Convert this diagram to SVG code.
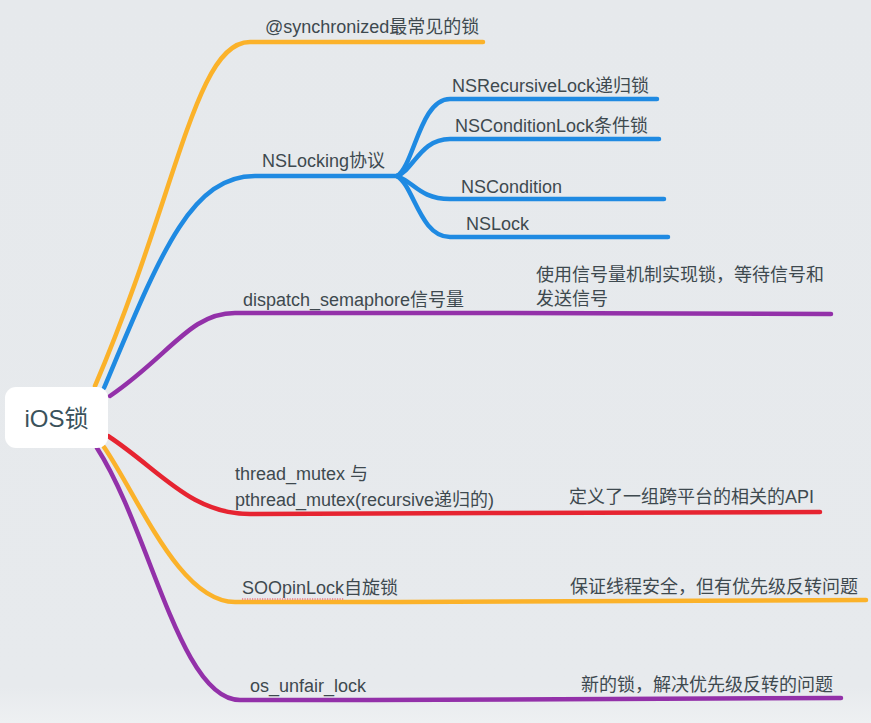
<svg xmlns="http://www.w3.org/2000/svg" width="871" height="723" viewBox="0 0 871 723">
<defs>
<linearGradient id="bg" x1="0" y1="0" x2="0" y2="1">
<stop offset="0" stop-color="#e6e9ec"/>
<stop offset="0.95" stop-color="#e7eaed"/>
<stop offset="1" stop-color="#eef0f2"/>
</linearGradient>
<style>
.ln{fill:none;stroke-width:4.5;stroke-linecap:round;stroke-linejoin:round}
.or{stroke:#fbb22a}
.bl{stroke:#1f8ae2}
.pu{stroke:#9331a9}
.rd{stroke:#e62431}
.t{font-family:"Liberation Sans","Noto Sans CJK SC",sans-serif;font-size:18px;fill:#3e494f}
.root{font-family:"Liberation Sans","Noto Sans CJK SC",sans-serif;font-size:24px;fill:#3a525b}
</style>
</defs>
<rect width="871" height="723" fill="url(#bg)"/>
<g id="connectors">
<path class="ln or" d="M95,386 C178,192 195,42 250,42 L483,42"/>
<path class="ln bl" d="M104,388 C160,255 190,176 255,176 L397,176"/>
<path class="ln bl" d="M397,176 C414,166 420,99 450,99 L657,99"/>
<path class="ln bl" d="M397,176 C414,170 420,139 450,139 L659,139"/>
<path class="ln bl" d="M397,176 C414,182 420,199 450,199 L664,199"/>
<path class="ln bl" d="M397,176 C414,186 420,237 450,237 L668,237"/>
<path class="ln pu" d="M110,396 C170,355 190,313 235,313 L470,313 L831,314"/>
<path class="ln rd" d="M108,436 C160,470 190,514 250,514 L491,513 L820,512"/>
<path class="ln or" d="M104,447 C140,500 180,602 235,602 L400,602 L866,600"/>
<path class="ln pu" d="M97,448 C150,530 180,700 240,700 L370,700 L841,698"/>
</g>
<g id="root">
<rect x="5" y="387" width="103" height="61" rx="11" fill="#ffffff"/>
<text class="root" x="56.5" y="427" text-anchor="middle">iOS锁</text>
</g>
<g id="n-synchronized"><text class="t" x="265" y="33">@synchronized最常见的锁</text></g>
<g id="n-nslocking"><text class="t" x="262" y="167">NSLocking协议</text></g>
<g id="n-recursive"><text class="t" x="452" y="92">NSRecursiveLock递归锁</text></g>
<g id="n-conditionlock"><text class="t" x="455" y="132">NSConditionLock条件锁</text></g>
<g id="n-condition"><text class="t" x="461" y="193">NSCondition</text></g>
<g id="n-nslock"><text class="t" x="466" y="230">NSLock</text></g>
<g id="n-semaphore"><text class="t" x="243" y="306">dispatch_semaphore信号量</text></g>
<g id="n-semaphore-note"><text class="t" x="536" y="281">使用信号量机制实现锁，等待信号和</text><text class="t" x="536" y="305">发送信号</text></g>
<g id="n-mutex"><text class="t" x="235" y="480">thread_mutex 与</text><text class="t" x="235" y="506">pthread_mutex(recursive递归的)</text></g>
<g id="n-mutex-note"><text class="t" x="569" y="503">定义了一组跨平台的相关的API</text></g>
<g id="n-spinlock"><text class="t" x="242" y="594">SOOpinLock自旋锁</text>
<line x1="242" y1="599" x2="344" y2="599" stroke="#f0415a" stroke-width="1.2" stroke-dasharray="1.2,1.3"/></g>
<g id="n-spinlock-note"><text class="t" x="570" y="593">保证线程安全，但有优先级反转问题</text></g>
<g id="n-unfair"><text class="t" x="250" y="692">os_unfair_lock</text></g>
<g id="n-unfair-note"><text class="t" x="581" y="691">新的锁，解决优先级反转的问题</text></g>
</svg>
